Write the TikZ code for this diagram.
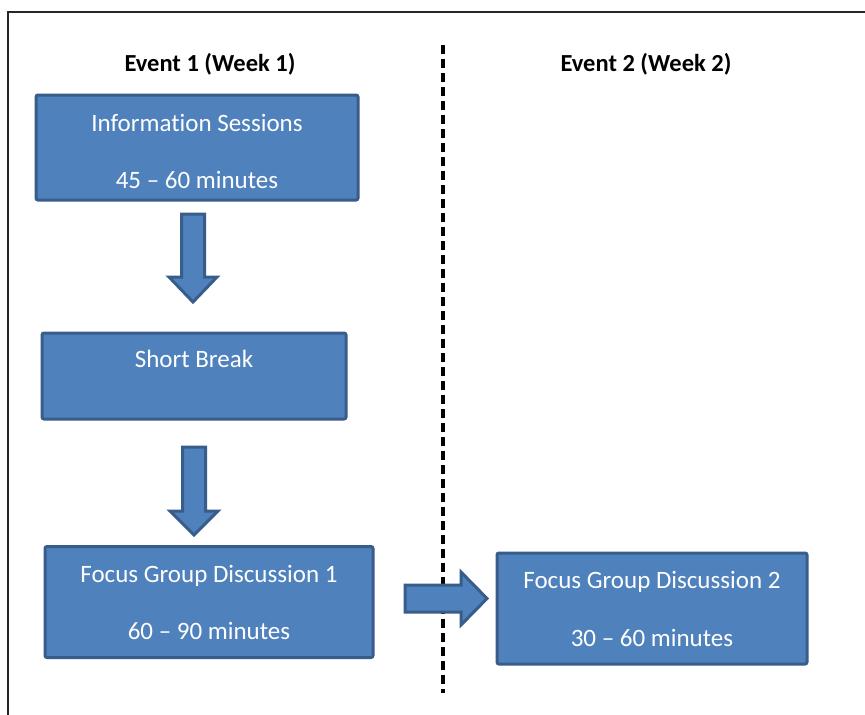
\documentclass[tikz,border=0pt]{standalone}
\usepackage{fontspec}
\setmainfont[Ligatures={TeX,NoCommon}]{Carlito}
\usetikzlibrary{calc}
\definecolor{boxfill}{HTML}{4F81BD}
\definecolor{boxline}{HTML}{385D8A}
\tikzset{
  box/.style={draw=boxline, fill=boxfill, line width=3pt, rounded corners=2pt, inner sep=0pt},
  txt/.style={text=white, font=\fontsize{25}{30}\selectfont, anchor=base, inner sep=0pt},
  blk/.style={draw=boxline, fill=boxfill, line width=3pt, line join=miter},
  head/.style={font=\bfseries\fontsize{24.5}{29}\selectfont, text=black, anchor=base, inner sep=0pt},
  divider/.style={line width=3.2pt, dash pattern=on 9pt off 5pt},
  frame/.style={line width=1.5pt, draw=black!85}
}
\begin{document}
\begin{tikzpicture}[x=1pt,y=-1pt]
\useasboundingbox (0,0) rectangle (865,715);
\fill[white] (0,0) rectangle (865,715);
\draw[frame] (8,715) -- (8,12) -- (865,12);

% headers
\node[head] (h1) at (210,71) {Event 1 (Week 1)};
\node[head] (h2) at (646,71.5) {Event 2 (Week 2)};

% divider
\coordinate (dtop) at (443,45);
\coordinate (dbot) at (443,693);
\draw[divider] (dtop) -- (dbot);

% boxes
\node[box, minimum width=322pt, minimum height=105pt] (info) at (197,147.5) {};
\node[box, minimum width=304pt, minimum height=86pt] (brk) at (194,376) {};
\node[box, minimum width=328pt, minimum height=111pt] (fg1) at (209,602) {};
\node[box, minimum width=310pt, minimum height=111pt] (fg2) at (652,608.5) {};

% box texts
\node[txt] (info1) at ($(info.center)+(0,-16.5)$) {Information Sessions};
\node[txt] (info2) at ($(info.center)+(0,40.5)$) {45 – 60 minutes};
\node[txt] (brk1) at ($(brk.center)+(0,-8.3)$) {Short Break};
\node[txt] (fga1) at ($(fg1.center)+(0,-19.7)$) {Focus Group Discussion 1};
\node[txt] (fga2) at ($(fg1.center)+(0,37)$) {60 – 90 minutes};
\node[txt] (fgb1) at ($(fg2.center)+(0,-20.5)$) {Focus Group Discussion 2};
\node[txt] (fgb2) at ($(fg2.center)+(0,37.5)$) {30 – 60 minutes};

% block arrows
\draw[blk] (181.5,214) -- (204.5,214) -- (204.5,277) -- (217,277) -- (193,302)
  -- (169,277) -- (181.5,277) -- cycle;
\draw[blk] (182.5,447) -- (205.5,447) -- (205.5,511) -- (218,511) -- (194,535)
  -- (170,511) -- (182.5,511) -- cycle;
\draw[blk] (405,585) -- (461,585) -- (461,572) -- (487,598.5) -- (461,625)
  -- (461,612) -- (405,612) -- cycle;
\end{tikzpicture}
\end{document}
